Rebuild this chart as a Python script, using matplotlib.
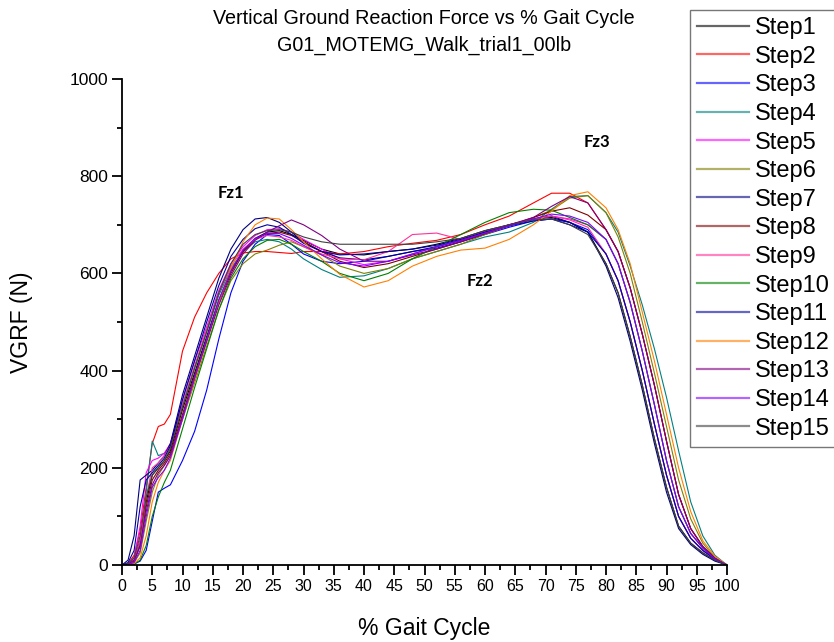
import matplotlib
matplotlib.use("Agg")
import matplotlib.pyplot as plt
from matplotlib.ticker import MultipleLocator

plt.rcParams['font.family'] = ['Liberation Sans', 'DejaVu Sans']

gait = [0, 1, 2, 3, 4, 5, 6, 7, 8, 10, 12, 14, 16, 18, 20, 22, 24, 26, 28, 30,
        33, 36, 40, 44, 48, 52, 56, 60, 64, 68, 71, 74, 77, 80, 82, 84, 86, 88,
        90, 92, 94, 96, 98, 100]

step1 = [0, 2, 10, 50, 130, 185, 200, 215, 235, 320, 395, 470, 545, 605, 645, 672, 685, 688, 680, 668,
         650, 640, 638, 645, 650, 660, 672, 688, 700, 712, 715, 705, 685, 620, 560, 470, 370, 260,
         160, 80, 45, 25, 10, 0]
step2 = [0, 3, 20, 70, 160, 250, 285, 290, 310, 440, 510, 560, 600, 630, 642, 645, 645, 643, 641, 645,
         645, 640, 645, 655, 662, 668, 680, 700, 718, 745, 765, 765, 745, 690, 645, 570, 475, 370,
         255, 145, 75, 38, 14, 0]
step3 = [0, 0, 2, 8, 30, 90, 150, 158, 165, 215, 275, 360, 465, 560, 625, 660, 680, 678, 660, 640,
         625, 620, 625, 635, 645, 652, 665, 680, 695, 708, 712, 705, 690, 640, 585, 500, 400, 290,
         185, 100, 55, 30, 12, 0]
step4 = [0, 2, 8, 40, 150, 255, 225, 230, 245, 330, 405, 480, 555, 610, 645, 665, 670, 665, 650, 630,
         608, 592, 595, 610, 630, 645, 660, 675, 685, 705, 732, 758, 760, 725, 685, 615, 535, 445,
         345, 235, 130, 60, 20, 0]
step5 = [0, 3, 15, 80, 190, 215, 220, 230, 250, 340, 420, 490, 565, 620, 655, 678, 690, 692, 685, 670,
         650, 630, 618, 625, 640, 655, 668, 685, 700, 712, 718, 712, 700, 670, 620, 540, 440, 330,
         215, 120, 65, 35, 12, 0]
step6 = [0, 1, 5, 25, 90, 150, 185, 205, 225, 300, 375, 450, 525, 585, 620, 640, 648, 658, 665, 655,
         638, 615, 600, 610, 630, 645, 660, 680, 698, 715, 730, 755, 760, 725, 675, 600, 500, 395,
         285, 175, 95, 45, 15, 0]
step7 = [0, 10, 60, 175, 185, 195, 210, 225, 250, 350, 430, 510, 590, 650, 690, 712, 715, 705, 685, 665,
         645, 632, 628, 635, 645, 655, 668, 685, 700, 712, 718, 705, 685, 615, 550, 460, 360, 250,
         150, 75, 42, 22, 8, 0]
step8 = [0, 2, 8, 40, 120, 175, 195, 210, 230, 310, 390, 465, 540, 600, 645, 670, 682, 685, 678, 665,
         645, 625, 612, 620, 635, 650, 665, 682, 698, 715, 728, 735, 720, 690, 645, 570, 475, 370,
         255, 145, 75, 38, 14, 0]
step9 = [0, 2, 10, 50, 140, 200, 210, 225, 245, 330, 410, 485, 560, 615, 650, 670, 678, 675, 668, 655,
         640, 630, 628, 645, 680, 683, 670, 685, 700, 712, 718, 710, 695, 640, 585, 500, 400, 290,
         185, 100, 55, 30, 12, 0]
step10 = [0, 0, 2, 10, 40, 100, 140, 170, 195, 280, 365, 445, 525, 590, 630, 655, 668, 670, 660, 645,
          625, 600, 585, 600, 630, 655, 680, 705, 725, 732, 730, 715, 700, 670, 620, 540, 440, 330,
          215, 120, 65, 35, 12, 0]
step11 = [0, 5, 30, 120, 175, 190, 205, 220, 245, 340, 420, 500, 575, 635, 670, 692, 700, 695, 680, 662,
          645, 638, 640, 645, 650, 658, 670, 685, 698, 708, 712, 700, 685, 640, 585, 500, 400, 290,
          185, 100, 55, 30, 12, 0]
step12 = [0, 0, 3, 15, 60, 130, 170, 195, 215, 300, 380, 460, 540, 610, 665, 700, 714, 712, 690, 665,
          630, 598, 572, 585, 615, 635, 648, 652, 670, 700, 728, 760, 768, 735, 690, 620, 520, 420,
          310, 200, 110, 50, 18, 0]
step13 = [0, 2, 10, 40, 110, 165, 190, 205, 225, 305, 385, 460, 535, 595, 640, 668, 685, 698, 710, 700,
          678, 650, 625, 625, 638, 650, 665, 682, 700, 715, 738, 758, 745, 690, 645, 570, 475, 370,
          255, 145, 75, 38, 14, 0]
step14 = [0, 1, 5, 30, 100, 160, 180, 195, 220, 300, 385, 465, 545, 605, 648, 672, 682, 682, 672, 658,
          638, 622, 615, 625, 640, 655, 668, 683, 698, 712, 722, 718, 705, 670, 620, 540, 440, 330,
          215, 120, 65, 35, 12, 0]
step15 = [0, 3, 15, 60, 140, 185, 200, 215, 240, 325, 405, 480, 560, 620, 660, 680, 688, 690, 685, 675,
          665, 660, 660, 660, 660, 665, 672, 688, 700, 710, 712, 700, 680, 620, 560, 470, 370, 260,
          160, 80, 45, 25, 10, 0]

steps = [step1, step2, step3, step4, step5, step6, step7, step8, step9, step10,
         step11, step12, step13, step14, step15]
labels = ["Step%d" % (i + 1) for i in range(15)]
colors = ["#000000", "#FF0000", "#0000FF", "#008080", "#FF00FF", "#808000", "#000080",
          "#800000", "#FF3399", "#008000", "#0000A0", "#FF8000", "#800080", "#8000FF", "#404040"]

title_lines = ["Vertical Ground Reaction Force vs % Gait Cycle", "G01_MOTEMG_Walk_trial1_00lb"]
annotations = [("Fz1", 18.0, 765), ("Fz2", 59.2, 584), ("Fz3", 78.5, 870)]

fig = plt.figure(figsize=(8.34, 6.42), dpi=100)
ax = fig.add_axes([122 / 834, 77 / 642, 605 / 834, 486 / 642])

for ys, lab, c in zip(steps, labels, colors):
    ax.plot(gait, ys, color=c, lw=0.8, label=lab)

ax.set_xlim(0, 100)
ax.set_ylim(0, 1000)
ax.xaxis.set_major_locator(MultipleLocator(5))
ax.xaxis.set_minor_locator(MultipleLocator(2.5))
ax.yaxis.set_major_locator(MultipleLocator(200))
ax.yaxis.set_minor_locator(MultipleLocator(100))
ax.spines['top'].set_visible(False)
ax.spines['right'].set_visible(False)
for s in ('left', 'bottom'):
    ax.spines[s].set_linewidth(1.3)
ax.tick_params(which='major', direction='out', length=7, width=1.3)
ax.tick_params(which='minor', direction='out', length=3.6, width=1.3)
ax.tick_params(axis='x', labelsize=11.5, pad=3)
ax.tick_params(axis='y', labelsize=12.5, pad=3)

ax.set_xlabel("% Gait Cycle", fontsize=16.5, labelpad=17)
ax.set_ylabel("VGRF (N)", fontsize=16.5, labelpad=26)

fig.text(424 / 834, 1 - 18 / 642, title_lines[0], ha='center', va='center', fontsize=14.2)
fig.text(424 / 834, 1 - 45 / 642, title_lines[1], ha='center', va='center', fontsize=14.2)

for txt, xv, yv in annotations:
    ax.text(xv, yv, txt, ha='center', va='center', fontsize=12, fontweight='bold',
            family=['Lato', 'DejaVu Sans'])

leg = fig.legend(loc='upper left', bbox_to_anchor=(690 / 834, 1 - 10 / 642),
                 fontsize=17, frameon=True, fancybox=False, edgecolor='#555555',
                 handlelength=2.2, handletextpad=0.25, labelspacing=0.28,
                 borderpad=0.3, borderaxespad=0)
leg.get_frame().set_linewidth(1.0)
for h in leg.get_lines():
    h.set_linewidth(1.6)
    h.set_alpha(0.6)

fig.savefig("out.png", dpi=100)
